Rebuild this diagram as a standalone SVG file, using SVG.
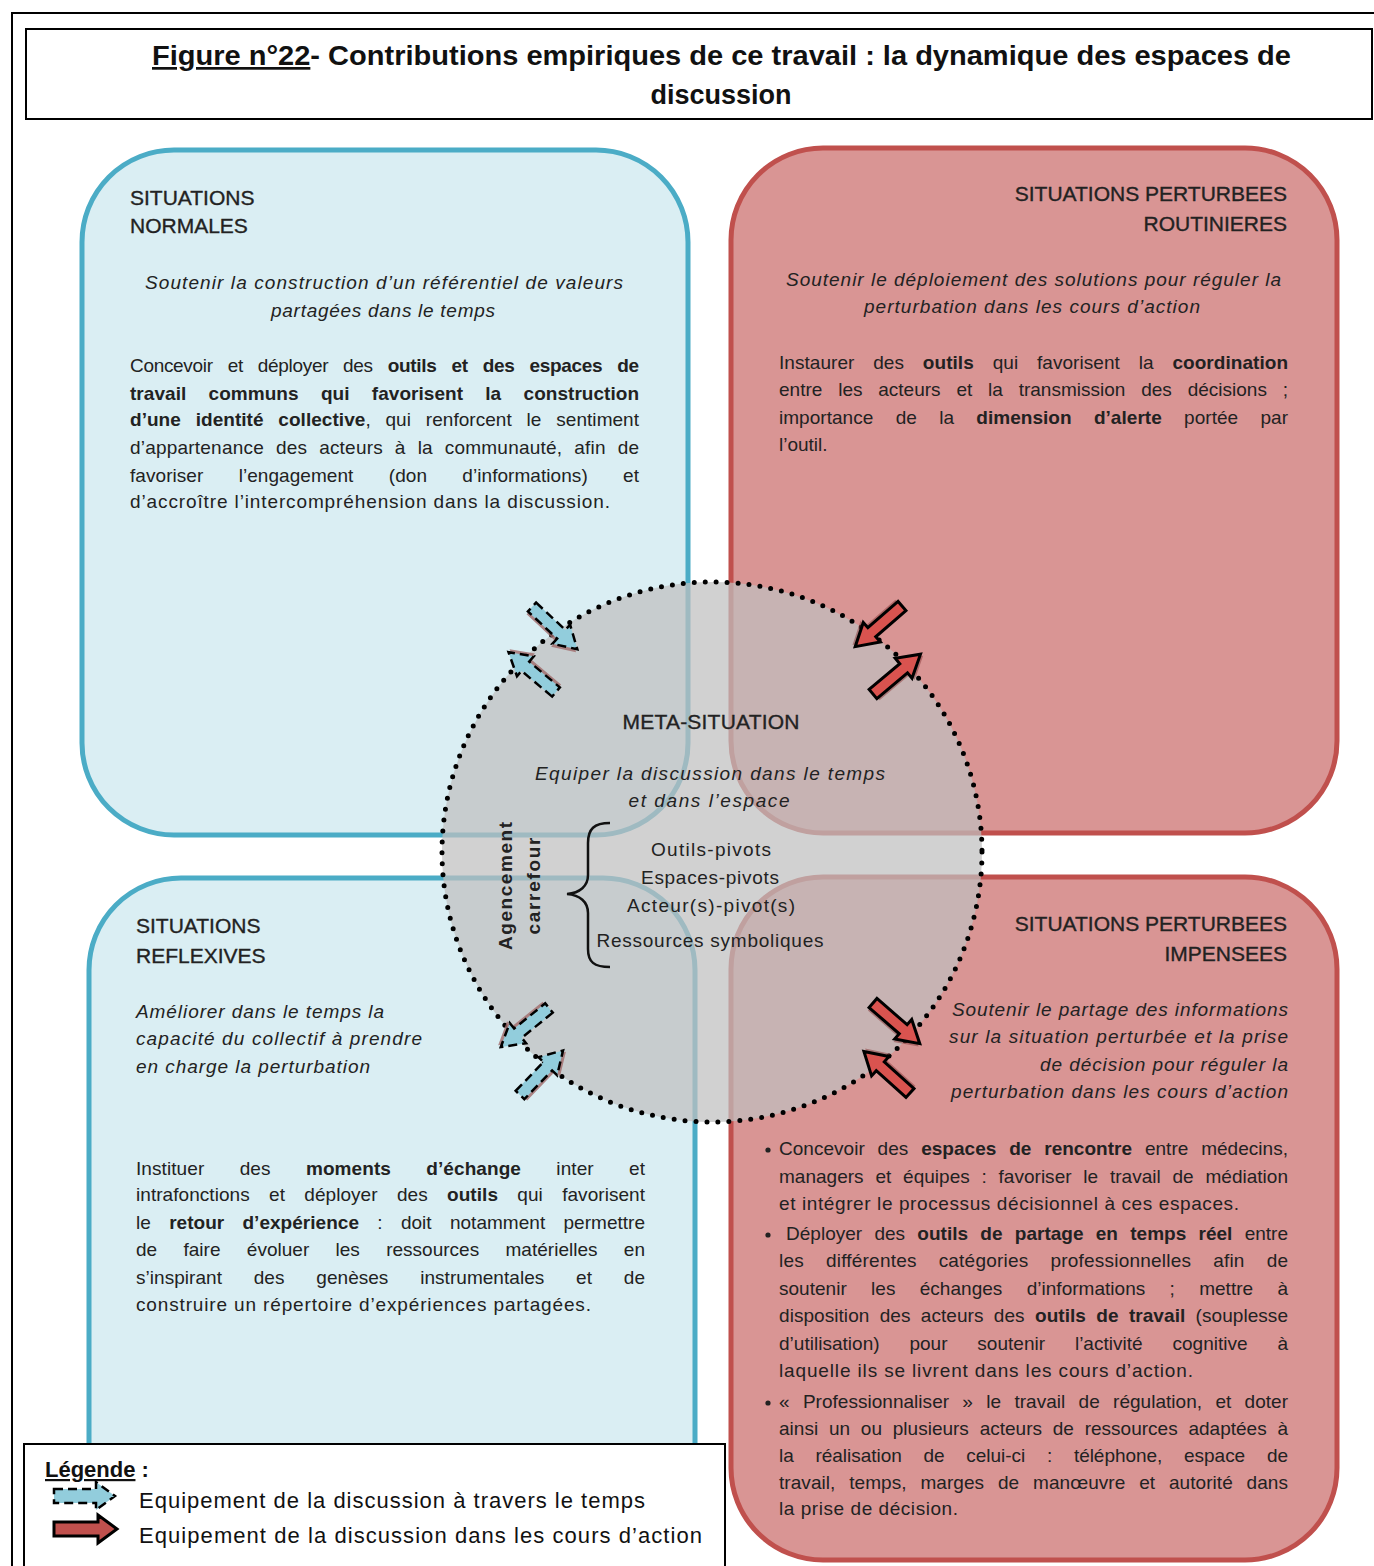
<svg xmlns="http://www.w3.org/2000/svg" xmlns:xlink="http://www.w3.org/1999/xlink" width="1374" height="1566" viewBox="0 0 1374 1566">
<style>
.t{font-family:"Liberation Sans",Arial,sans-serif;fill:#222}
.h{font-size:21px;stroke:#222;stroke-width:0.35}
.s{font-size:19px}
.i{font-style:italic}
.bd{font-weight:bold}
.blue{fill:#DAEEF3;stroke:#4BACC6;stroke-width:5}
.red{fill:#D99594;stroke:#C0504D;stroke-width:5}
.ba{fill:#92CDDC;stroke:#000;stroke-width:2.5;stroke-dasharray:9 5}
.ra{fill:#D9534F;stroke:#000;stroke-width:3}
</style>
<defs>
<path id="arr" d="M0,-6 L40,-6 L40,-13 L62,0 L40,13 L40,6 L0,6 Z"/>
<g id="blueArr"><use href="#arr" fill="#A06A6A" opacity="0.8" transform="translate(1,3)"/><use href="#arr" class="ba"/></g>
<g id="redArr"><use href="#arr" fill="#8a3a3a" opacity="0.5" transform="translate(1,3)"/><use href="#arr" class="ra"/></g>
</defs>
<rect width="1374" height="1566" fill="#fff"/>
<rect x="12" y="13" width="1380" height="1570" fill="none" stroke="#000" stroke-width="2"/>

<g id="title">
<rect x="26" y="29" width="1346" height="90" fill="#fff" stroke="#000" stroke-width="2"/>
<text class="t bd" x="152" y="65" font-size="27" textLength="1139" lengthAdjust="spacingAndGlyphs" style="fill:#111"><tspan text-decoration="underline">Figure n°22</tspan>- Contributions empiriques de ce travail : la dynamique des espaces de</text>
<text class="t bd" x="721" y="104" font-size="27" text-anchor="middle" style="fill:#111">discussion</text>
</g>

<g id="situations-normales">
<rect class="blue" x="82" y="150" width="606" height="685" rx="92"/>
<text class="t h" x="130" y="205">SITUATIONS</text>
<text class="t h" x="130" y="233">NORMALES</text>
<text class="t s i" x="145" y="289" textLength="478">Soutenir la construction d’un référentiel de valeurs</text>
<text class="t s i" x="271" y="317" textLength="224">partagées dans le temps</text>
<text class="t s" x="130" y="372" textLength="509" style="word-spacing:10px">Concevoir et déployer des <tspan class="bd">outils et des espaces de</tspan></text>
<text class="t s bd" x="130" y="400" textLength="509" style="word-spacing:17px">travail communs qui favorisent la construction</text>
<text class="t s" x="130" y="426" textLength="509" style="word-spacing:9.5px"><tspan class="bd">d’une identité collective</tspan>, qui renforcent le sentiment</text>
<text class="t s" x="130" y="454" textLength="509" style="word-spacing:6.5px">d’appartenance des acteurs à la communauté, afin de</text>
<text class="t s" x="130" y="482" textLength="509" style="word-spacing:30px">favoriser l’engagement (don d’informations) et</text>
<text class="t s" x="130" y="508" textLength="480">d’accroître l’intercompréhension dans la discussion.</text>
</g>

<g id="situations-perturbees-routinieres">
<rect class="red" x="731" y="148" width="606" height="685" rx="92"/>
<text class="t h" x="1287" y="201" text-anchor="end">SITUATIONS PERTURBEES</text>
<text class="t h" x="1287" y="231" text-anchor="end">ROUTINIERES</text>
<text class="t s i" x="786" y="286" textLength="495">Soutenir le déploiement des solutions pour réguler la</text>
<text class="t s i" x="864" y="313" textLength="336">perturbation dans les cours d’action</text>
<text class="t s" x="779" y="369" textLength="509" style="word-spacing:13.5px">Instaurer des <tspan class="bd">outils</tspan> qui favorisent la <tspan class="bd">coordination</tspan></text>
<text class="t s" x="779" y="396" textLength="509" style="word-spacing:10.5px">entre les acteurs et la transmission des décisions ;</text>
<text class="t s" x="779" y="424" textLength="509" style="word-spacing:17px">importance de la <tspan class="bd">dimension d’alerte</tspan> portée par</text>
<text class="t s" x="779" y="451">l’outil.</text>
</g>

<g id="situations-reflexives">
<rect class="blue" x="89" y="878" width="606" height="684" rx="92"/>
<text class="t h" x="136" y="933">SITUATIONS</text>
<text class="t h" x="136" y="963">REFLEXIVES</text>
<text class="t s i" x="136" y="1018" textLength="248">Améliorer dans le temps la</text>
<text class="t s i" x="136" y="1045" textLength="286">capacité du collectif à prendre</text>
<text class="t s i" x="136" y="1073" textLength="234">en charge la perturbation</text>
<text class="t s" x="136" y="1175" textLength="509" style="word-spacing:30px">Instituer des <tspan class="bd">moments d’échange</tspan> inter et</text>
<text class="t s" x="136" y="1201" textLength="509" style="word-spacing:14px">intrafonctions et déployer des <tspan class="bd">outils</tspan> qui favorisent</text>
<text class="t s" x="136" y="1229" textLength="509" style="word-spacing:13px">le <tspan class="bd">retour d’expérience</tspan> : doit notamment permettre</text>
<text class="t s" x="136" y="1256" textLength="509" style="word-spacing:21px">de faire évoluer les ressources matérielles en</text>
<text class="t s" x="136" y="1284" textLength="509" style="word-spacing:26.5px">s’inspirant des genèses instrumentales et de</text>
<text class="t s" x="136" y="1311" textLength="455">construire un répertoire d’expériences partagées.</text>
</g>

<g id="situations-perturbees-impensees">
<rect class="red" x="731" y="877" width="606" height="683" rx="92"/>
<text class="t h" x="1287" y="931" text-anchor="end">SITUATIONS PERTURBEES</text>
<text class="t h" x="1287" y="961" text-anchor="end">IMPENSEES</text>
<text class="t s i" x="1288" y="1016" text-anchor="end" textLength="336">Soutenir le partage des informations</text>
<text class="t s i" x="1288" y="1043" text-anchor="end" textLength="339">sur la situation perturbée et la prise</text>
<text class="t s i" x="1288" y="1071" text-anchor="end" textLength="248">de décision pour réguler la</text>
<text class="t s i" x="1288" y="1098" text-anchor="end" textLength="337">perturbation dans les cours d’action</text>
<circle cx="768" cy="1150" r="2.6" fill="#222"/>
<circle cx="768" cy="1235" r="2.6" fill="#222"/>
<circle cx="768" cy="1403" r="2.6" fill="#222"/>
<text class="t s" x="779" y="1155" textLength="509" style="word-spacing:7.5px">Concevoir des <tspan class="bd">espaces de rencontre</tspan> entre médecins,</text>
<text class="t s" x="779" y="1183" textLength="509" style="word-spacing:6.5px">managers et équipes : favoriser le travail de médiation</text>
<text class="t s" x="779" y="1210" textLength="460">et intégrer le processus décisionnel à ces espaces.</text>
<text class="t s" x="786" y="1240" textLength="502" style="word-spacing:7px">Déployer des <tspan class="bd">outils de partage en temps réel</tspan> entre</text>
<text class="t s" x="779" y="1267" textLength="509" style="word-spacing:16.5px">les différentes catégories professionnelles afin de</text>
<text class="t s" x="779" y="1295" textLength="509" style="word-spacing:19px">soutenir les échanges d’informations ; mettre à</text>
<text class="t s" x="779" y="1322" textLength="509" style="word-spacing:5px">disposition des acteurs des <tspan class="bd">outils de travail</tspan> (souplesse</text>
<text class="t s" x="779" y="1350" textLength="509" style="word-spacing:24.5px">d’utilisation) pour soutenir l’activité cognitive à</text>
<text class="t s" x="779" y="1377" textLength="414">laquelle ils se livrent dans les cours d’action.</text>
<text class="t s" x="779" y="1408" textLength="509" style="word-spacing:8px">« Professionnaliser » le travail de régulation, et doter</text>
<text class="t s" x="779" y="1435" textLength="509" style="word-spacing:5.5px">ainsi un ou plusieurs acteurs de ressources adaptées à</text>
<text class="t s" x="779" y="1462" textLength="509" style="word-spacing:16.5px">la réalisation de celui-ci : téléphone, espace de</text>
<text class="t s" x="779" y="1489" textLength="509" style="word-spacing:8.5px">travail, temps, marges de manœuvre et autorité dans</text>
<text class="t s" x="779" y="1515" textLength="179">la prise de décision.</text>
</g>

<g id="meta-situation">
<circle cx="712" cy="852" r="270" fill="#BFBFBF" fill-opacity="0.72"/>
<circle cx="712" cy="852" r="270" fill="none" stroke="#000" stroke-width="5" stroke-linecap="round" stroke-dasharray="0 11"/>
<text class="t h" x="711" y="729" text-anchor="middle" textLength="177">META-SITUATION</text>
<text class="t s i" x="710" y="780" text-anchor="middle" textLength="350">Equiper la discussion dans le temps</text>
<text class="t s i" x="709" y="807" text-anchor="middle" textLength="161">et dans l’espace</text>
<text class="t s bd" transform="translate(512,886) rotate(-90)" text-anchor="middle" textLength="128">Agencement</text>
<text class="t s bd" transform="translate(540,886) rotate(-90)" text-anchor="middle" textLength="97">carrefour</text>
<path d="M610,823 C594,823 588,829 588,843 L588,875 C588,886 580,893 567,894 C580,895 588,902 588,913 L588,949 C588,962 594,967 610,967" fill="none" stroke="#111" stroke-width="2.5"/>
<text class="t s" x="711" y="856" text-anchor="middle" textLength="120">Outils-pivots</text>
<text class="t s" x="710" y="884" text-anchor="middle" textLength="138">Espaces-pivots</text>
<text class="t s" x="711" y="912" text-anchor="middle" textLength="168">Acteur(s)-pivot(s)</text>
<text class="t s" x="710" y="947" text-anchor="middle" textLength="227">Ressources symboliques</text>
</g>

<g id="connectors">
<use href="#blueArr" transform="translate(532,607) rotate(43)"/>
<use href="#blueArr" transform="translate(556,692) rotate(220)"/>
<use href="#redArr" transform="translate(902,606) rotate(139)"/>
<use href="#redArr" transform="translate(873,694) rotate(-40)"/>
<use href="#blueArr" transform="translate(549,1008) rotate(141)"/>
<use href="#blueArr" transform="translate(520,1095) rotate(-46)"/>
<use href="#redArr" transform="translate(873,1003) rotate(41)"/>
<use href="#redArr" transform="translate(910,1093) rotate(222)"/>
</g>

<g id="legend">
<rect x="24" y="1444" width="701" height="130" fill="#fff" stroke="#000" stroke-width="2"/>
<text class="t bd" x="45" y="1477" font-size="22" style="fill:#111"><tspan text-decoration="underline">Légende</tspan> :</text>
<path d="M54,1489 L96,1489 L96,1482 L115,1496 L96,1510 L96,1503 L54,1503 Z" class="ba"/>
<path d="M54,1522 L98,1522 L98,1515 L117,1529 L98,1543 L98,1536 L54,1536 Z" fill="#C0504D" stroke="#000" stroke-width="3"/>
<text class="t" x="139" y="1508" font-size="22" textLength="506" style="fill:#111">Equipement de la discussion à travers le temps</text>
<text class="t" x="139" y="1543" font-size="22" textLength="563" style="fill:#111">Equipement de la discussion dans les cours  d’action</text>
</g>
</svg>
